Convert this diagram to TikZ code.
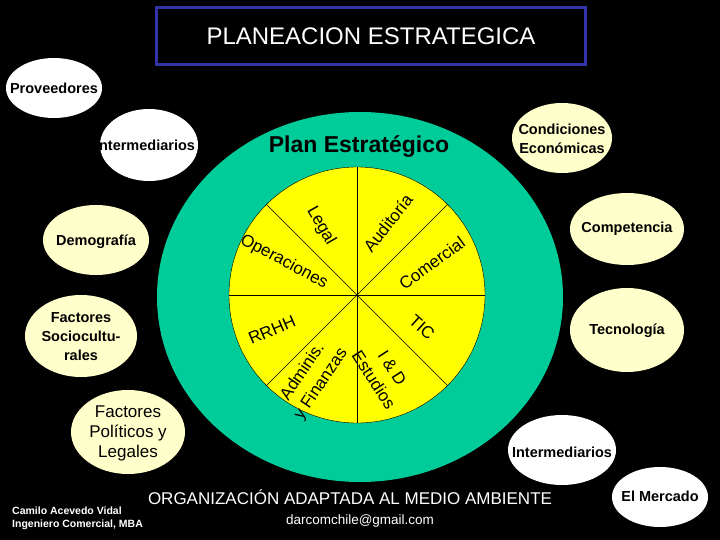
\documentclass[tikz,border=0pt]{standalone}
\usepackage{tikz}
\usepackage{tkz-euclide}
\usepackage{fontspec}
\setmainfont{Liberation Sans}
\definecolor{verdeplan}{RGB}{0,204,153}
\definecolor{amarilloplan}{RGB}{255,255,0}
\definecolor{crema}{RGB}{255,255,204}
\definecolor{azultitulo}{RGB}{51,51,170}

\begin{document}
\begin{tikzpicture}[x=1pt, y=-1pt,
    sector/.style={font=\fontsize{17}{22}\selectfont, align=center, inner sep=0pt},
    entorno/.style={font=\bfseries\fontsize{14.5}{19}\selectfont, align=center, inner sep=0pt},
    blanco/.style={text=white, inner sep=0pt}]
    \fill[black] (0,0) rectangle (720,540);
    \useasboundingbox (0,0) rectangle (720,540);
    \node[draw=azultitulo, line width=3pt, minimum width=429pt, minimum height=57pt,
        text=white, font=\fontsize{24}{28}\selectfont] (titulo) at (371,36) {PLANEACION ESTRATEGICA};

    \fill[white] (54,88) ellipse [x radius=48, y radius=30];
    \node[entorno] (proveedores) at (54,88) {Proveedores};
    \fill[white] (149,145) ellipse [x radius=49, y radius=36];
    \node[entorno] (intermediariosizq) at (145,145) {Intermediarios};
    \fill[crema] (562,138) ellipse [x radius=50, y radius=35];
    \node[entorno] (condiciones) at (562,139) {Condiciones\\Económicas};
    \fill[crema] (627,229) ellipse [x radius=57, y radius=36];
    \node[entorno] (competencia) at (627,229) {Competencia};
    \fill[crema] (96,240) ellipse [x radius=53, y radius=35];
    \node[entorno] (demografia) at (96,242) {Demografía};
    \fill[crema] (81,336) ellipse [x radius=56, y radius=41];
    \node[entorno] (socioculturales) at (81,337) {Factores\\Sociocultu-\\rales};
    \fill[crema] (128,432) ellipse [x radius=57, y radius=42];
    \node[entorno, font=\fontsize{17}{20}\selectfont] (politicos) at (128,433) {Factores\\Políticos y\\Legales};
    \fill[crema] (627,330) ellipse [x radius=57, y radius=42];
    \node[entorno] (tecnologia) at (627,331) {Tecnología};
    \fill[white] (562,450) ellipse [x radius=54, y radius=35];
    \node[entorno] (intermediariosder) at (562,452) {Intermediarios};
    \fill[white] (660,497) ellipse [x radius=48, y radius=30];
    \node[entorno] (mercado) at (660,496) {El Mercado};

    \fill[verdeplan] (360,297) ellipse [x radius=203, y radius=185];
    \node[font=\bfseries\fontsize{23}{27}\selectfont, inner sep=0pt] (plan) at (359,147) {Plan Estratégico};

    \tkzDefPoint(357,295){O}
    \filldraw[fill=amarilloplan, draw=black, thin] (O) circle [radius=128];
    \tkzDefShiftPoint[O](0:128){R0}
    \tkzDefShiftPoint[O](45:128){R1}
    \tkzDefShiftPoint[O](90:128){R2}
    \tkzDefShiftPoint[O](135:128){R3}
    \tkzDefShiftPoint[O](180:128){R4}
    \tkzDefShiftPoint[O](225:128){R5}
    \tkzDefShiftPoint[O](270:128){R6}
    \tkzDefShiftPoint[O](315:128){R7}
    \tkzDrawSegments[black, thin](R0,R4 R1,R5 R2,R6 R3,R7)

    \node[sector, rotate=-60] (legal) at (321,226) {Legal};
    \node[sector, rotate=52] (auditoria) at (388,223) {Auditoría};
    \node[sector, rotate=-28] (operaciones) at (284,262) {Operaciones};
    \node[sector, rotate=36] (comercial) at (432,263) {Comercial};
    \node[sector, rotate=23] (rrhh) at (272,330) {RRHH};
    \node[sector, rotate=-42] (tic) at (422,327) {TIC};
    \node[sector, rotate=56] (adminis) at (312,378) {Adminis.\\y Finanzas};
    \node[sector, rotate=-57] (iyd) at (383,374) {I \& D\\Estudios};

    \node[blanco, font=\fontsize{17}{20}\selectfont] (organizacion) at (350,497) {ORGANIZACIÓN ADAPTADA AL MEDIO AMBIENTE};
    \node[blanco, font=\fontsize{13.5}{16}\selectfont] (correo) at (360,521) {darcomchile@gmail.com};
    \node[blanco, font=\bfseries\fontsize{10.5}{13}\selectfont, align=left, anchor=west] (autor) at (12,518) {Camilo Acevedo Vidal\\Ingeniero Comercial, MBA};
\end{tikzpicture}
\end{document}
